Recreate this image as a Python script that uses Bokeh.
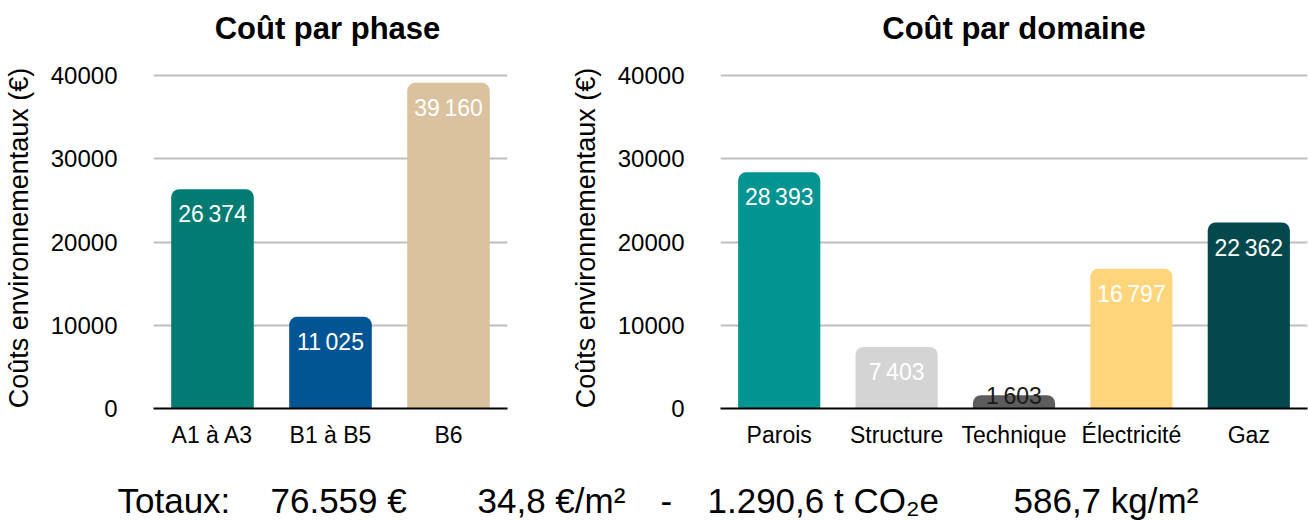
from bokeh.plotting import figure
from bokeh.models import ColumnDataSource, Range1d, FixedTicker
from bokeh.layouts import column, row
from bokeh.embed import file_html
from bokeh.resources import INLINE
from bokeh.core.properties import value

FONT = "Liberation Sans"

# ---- data ----
phase_title = "Coût par phase"
phase_cats = ["A1 à A3", "B1 à B5", "B6"]
phase_vals = [26374, 11025, 39160]
phase_colors = ["#027B73", "#025594", "#DBC29E"]

dom_title = "Coût par domaine"
dom_cats = ["Parois", "Structure", "Technique", "Électricité", "Gaz"]
dom_vals = [28393, 7403, 1603, 16797, 22362]
dom_colors = ["#029491", "#D4D4D4", "#5C5C5C", "#FED57A", "#03484C"]

y_ticks = [0, 10000, 20000, 30000, 40000]
y_title = "Coûts environnementaux (€)"

totals_text = ["Totaux:", "76.559 €", "34,8 €/m²", "-", "1.290,6 t CO₂e", "586,7 kg/m²"]

# ---- layout (pixels) ----
W = 1308
TOP_H = 50          # title band
CH_H = 410          # chart band
BOT_H = 521 - TOP_H - CH_H
title_x = [327, 1013.5]
totals_x = [117, 270, 477, 660, 707, 1013]
TEXT_SHIFT = 12     # empirical baseline correction


def fmt(v):
    return f"{v:,}".replace(",", "\u2009")


def make_chart(cats, vals, colors, width, left, right, top, ymax, inside_min):
    p = figure(x_range=cats, y_range=Range1d(0, ymax), width=width, height=CH_H,
               output_backend="svg", toolbar_location=None,
               min_border_left=left, min_border_right=right, min_border_top=top,
               min_border_bottom=CH_H - (408 - TOP_H))
    p.outline_line_color = None
    p.background_fill_color = "white"
    p.border_fill_color = "white"

    src = ColumnDataSource(dict(cat=cats, val=vals, color=colors))
    p.vbar(x="cat", top="val", width=0.7, source=src, color="color",
           line_color=None, border_radius=(8, 8, 0, 0))

    ins = [i for i, v in enumerate(vals) if v >= inside_min]
    outs = [i for i, v in enumerate(vals) if v < inside_min]
    s_in = ColumnDataSource(dict(cat=[cats[i] for i in ins], val=[vals[i] for i in ins],
                                 lab=[fmt(vals[i]) for i in ins]))
    s_out = ColumnDataSource(dict(cat=[cats[i] for i in outs], val=[vals[i] for i in outs],
                                  lab=[fmt(vals[i]) for i in outs]))
    p.text(x="cat", y="val", text="lab", source=s_in, text_color="white",
           text_font=value(FONT), text_font_size="23px", text_align="center",
           text_baseline="top", y_offset=12)
    p.text(x="cat", y="val", text="lab", source=s_out, text_color="#1a1a1a",
           text_font=value(FONT), text_font_size="23px", text_align="center",
           text_baseline="alphabetic", y_offset=1)

    p.yaxis.ticker = FixedTicker(ticks=y_ticks)
    p.yaxis.axis_line_color = None
    p.yaxis.major_tick_line_color = None
    p.yaxis.minor_tick_line_color = None
    p.yaxis.major_label_standoff = 30
    p.yaxis.major_label_text_font = FONT
    p.yaxis.major_label_text_font_size = "24px"
    p.yaxis.major_label_text_color = "black"
    p.yaxis.axis_label = y_title
    p.yaxis.axis_label_text_font = FONT
    p.yaxis.axis_label_text_font_size = "27px"
    p.yaxis.axis_label_text_font_style = "normal"
    p.yaxis.axis_label_text_color = "black"
    p.yaxis.axis_label_standoff = 14

    p.xaxis.axis_line_color = "black"
    p.xaxis.axis_line_width = 2
    p.xaxis.major_tick_line_color = None
    p.xaxis.minor_tick_line_color = None
    p.xaxis.major_label_standoff = 7
    p.xaxis.major_label_text_font = FONT
    p.xaxis.major_label_text_font_size = "23px"
    p.xaxis.major_label_text_color = "black"

    p.xgrid.grid_line_color = None
    p.ygrid.ticker = FixedTicker(ticks=y_ticks)
    p.ygrid.grid_line_color = "#BFBFBF"
    p.ygrid.grid_line_width = 2
    return p


def band(height):
    b = figure(width=W, height=height, x_range=Range1d(0, W), y_range=Range1d(0, height),
               output_backend="svg", toolbar_location=None,
               min_border_left=0, min_border_right=0, min_border_top=0, min_border_bottom=0)
    b.axis.visible = False
    b.grid.visible = False
    b.outline_line_color = None
    return b


# titles band (baseline ~40 px from top)
pt = band(TOP_H)
tt = ColumnDataSource(dict(x=title_x, y=[TOP_H - 40 + TEXT_SHIFT] * 2, t=[phase_title, dom_title]))
pt.text(x="x", y="y", text="t", source=tt, text_font=value(FONT), text_font_size="31px",
        text_font_style="bold", text_color="black", text_baseline="alphabetic",
        text_align="center")

# charts: left frame 147..507, top 75 for 40000; right frame 720..1307, top 72 for 40000
p1 = make_chart(phase_cats, phase_vals, phase_colors, 560, 147, 53,
                int(round(408 - 333 * 41000 / 40000)) - TOP_H, 41000, 5000)
p2 = make_chart(dom_cats, dom_vals, dom_colors, 748, 160, 1,
                int(round(408 - 336 * 41000 / 40000)) - TOP_H, 41000, 5000)

# totals band (baseline ~512 px from page top, kept inside the page)
p3 = band(BOT_H)
tsrc = ColumnDataSource(dict(x=totals_x, y=[BOT_H - (512 - TOP_H - CH_H) + TEXT_SHIFT] * len(totals_x),
                             t=totals_text))
p3.text(x="x", y="y", text="t", source=tsrc, text_font=value(FONT), text_font_size="35px",
        text_color="black", text_baseline="alphabetic", text_align="left")

layout = column(pt, row(p1, p2), p3)
open("out.html", "w").write(file_html(layout, INLINE))
